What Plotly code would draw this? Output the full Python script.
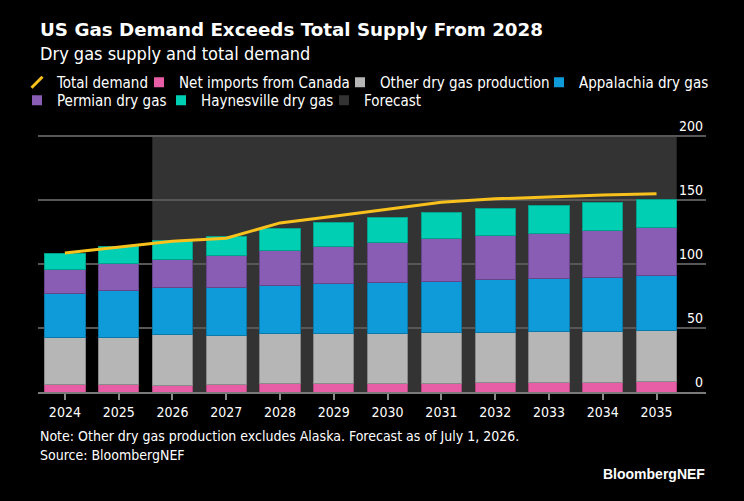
import plotly.graph_objects as go

years = [2024, 2025, 2026, 2027, 2028, 2029, 2030, 2031, 2032, 2033, 2034, 2035]
net_imports_canada = [5.8, 5.8, 5.2, 5.8, 6.5, 6.5, 6.8, 6.8, 7.3, 7.6, 7.8, 8.4]
other_dry_gas = [36.5, 37.2, 39.4, 38.5, 38.9, 38.9, 39.1, 39.4, 39.1, 39.4, 39.7, 39.6]
appalachia = [34.4, 36.0, 36.8, 37.3, 37.8, 39.4, 39.6, 40.1, 41.2, 41.4, 42.0, 42.8]
permian = [18.7, 21.4, 22.4, 25.1, 27.6, 28.9, 31.3, 33.7, 34.7, 35.7, 36.7, 37.8]
haynesville = [12.8, 13.0, 14.3, 14.6, 17.0, 19.0, 19.6, 20.6, 20.9, 21.4, 21.9, 22.1]
total_demand = [108.7, 113.2, 117.9, 120.2, 132.2, 137.4, 142.6, 148.4, 151.0, 152.8, 154.1, 154.9]
forecast_start = 2026
forecast_end = 2035
y_ticks = [0, 50, 100, 150, 200]

BODY = "'DejaVu Sans Condensed', 'Liberation Sans', sans-serif"
BAR_W = 0.75
YELLOW = "#f9c11c"
SHADE = "#333333"

L, R, T, B = 38, 38, 117, 109
W, H = 744, 501
pw, ph = W - L - R, H - T - B

def px(x):
    return (x - L) / pw

def py(y):
    return (H - B - y) / ph

fig = go.Figure()

# forecast background band
fig.add_shape(type="rect", xref="x", yref="y",
              x0=forecast_start - BAR_W / 2, x1=forecast_end + BAR_W / 2,
              y0=0, y1=y_ticks[-1], fillcolor=SHADE, line=dict(width=0), layer="below")

series = [
    ("Net imports from Canada", net_imports_canada, "#e75ea7", "#b04a80"),
    ("Other dry gas production", other_dry_gas, "#b6b6b6", "#8a8a8a"),
    ("Appalachia dry gas", appalachia, "#0f9bd9", "#0b78a8"),
    ("Permian dry gas", permian, "#885db3", "#66468a"),
    ("Haynesville dry gas", haynesville, "#00cfb3", "#00a08a"),
]
for name, vals, col, edge in series:
    fig.add_trace(go.Bar(x=years, y=vals, name=name, width=BAR_W, showlegend=False,
                         marker=dict(color=col, line=dict(color=edge, width=1))))

fig.add_trace(go.Scatter(x=years, y=total_demand, mode="lines", name="Total demand",
                         showlegend=False, line=dict(color=YELLOW, width=3)))

# legend entries, each in its own legend box so they sit where the reference puts them
legend_items = [
    ("Total demand", "line-ne", YELLOW),
    ("Net imports from Canada", "square", "#e75ea7"),
    ("Other dry gas production", "square", "#b6b6b6"),
    ("Appalachia dry gas", "square", "#0f9bd9"),
    ("Permian dry gas", "square", "#885db3"),
    ("Haynesville dry gas", "square", "#00cfb3"),
    ("Forecast", "square", SHADE),
]
legend_pos = [(57, 66), (179, 66), (380, 66), (579, 66), (57, 84), (201, 84), (364, 84)]

layout_legends = {}
for i, ((name, sym, col), (tx, ty)) in enumerate(zip(legend_items, legend_pos)):
    key = "legend" if i == 0 else f"legend{i + 1}"
    if sym == "line-ne":
        marker = dict(symbol=sym, size=11, line=dict(color=col, width=3))
    else:
        marker = dict(symbol=sym, size=10, color=col, line=dict(width=0))
    fig.add_trace(go.Scatter(x=[None], y=[None], mode="markers", name=name,
                             marker=marker, legend=key, showlegend=True))
    layout_legends[key] = dict(orientation="h", x=px(tx - 40), xanchor="left", y=py(ty),
                               yanchor="top", font=dict(size=15, color="white", family=BODY),
                               itemwidth=30, bgcolor="rgba(0,0,0,0)")

fig.update_layout(
    width=W, height=H,
    margin=dict(l=L, r=R, t=T, b=B),
    paper_bgcolor="black", plot_bgcolor="black",
    barmode="stack",
    font=dict(family=BODY, color="white", size=14),
    showlegend=True,
    xaxis=dict(range=[2023.5, 2035.92], tickvals=years, ticktext=[str(y) for y in years],
               ticks="outside", ticklen=6, tickcolor="#8a8a8a", tickwidth=2,
               showline=True, linecolor="#7a7a7a", linewidth=2, showgrid=False,
               zeroline=False, tickfont=dict(size=14, color="white")),
    yaxis=dict(range=[0, 215], tickvals=y_ticks, side="right", ticklabelposition="inside top",
               showgrid=True, gridcolor="#575757", gridwidth=2, zeroline=False,
               showline=False, tickfont=dict(size=14, color="white")),
    annotations=[
        dict(text="<b>US Gas Demand Exceeds Total Supply From 2028</b>", xref="paper", yref="paper",
             x=px(38), y=py(30), xanchor="left", yanchor="middle", showarrow=False,
             font=dict(family="'DejaVu Sans', sans-serif", size=18.3, color="white")),
        dict(text="Dry gas supply and total demand", xref="paper", yref="paper",
             x=px(38), y=py(53), xanchor="left", yanchor="middle", showarrow=False,
             font=dict(family=BODY, size=18, color="white")),
        dict(text="Note: Other dry gas production excludes Alaska. Forecast as of July 1, 2026.",
             xref="paper", yref="paper", x=px(38), y=py(436), xanchor="left", yanchor="middle",
             showarrow=False, font=dict(family=BODY, size=14, color="white")),
        dict(text="Source: BloombergNEF", xref="paper", yref="paper", x=px(38), y=py(455),
             xanchor="left", yanchor="middle", showarrow=False,
             font=dict(family=BODY, size=14, color="white")),
        dict(text="<b>BloombergNEF</b>", xref="paper", yref="paper", x=px(707), y=py(474),
             xanchor="right", yanchor="middle", showarrow=False,
             font=dict(family="'Liberation Sans', Arial, sans-serif", size=14, color="white")),
    ],
    **layout_legends,
)

fig.write_html("out.html")
